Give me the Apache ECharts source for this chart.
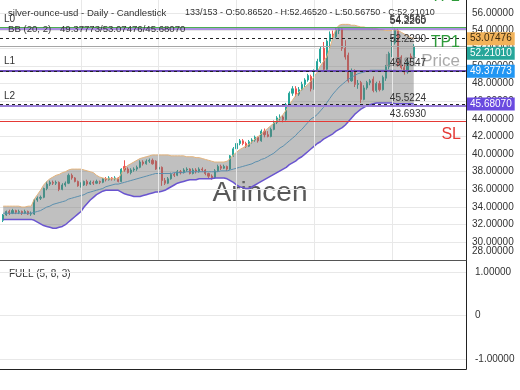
<!DOCTYPE html>
<html><head><meta charset="utf-8">
<script src="https://cdn.jsdelivr.net/npm/echarts@6/dist/echarts.min.js"></script>
<style>html,body{margin:0;padding:0;background:#fff}#c{width:520px;height:390px}</style>
</head><body><div id="c"></div>
<script>
// ---- data ----
const opens = [32.5,33.1,33.5,33.3,33.6,33.4,33.5,33.3,33.5,33.2,
33.2,34.8,35.0,35.1,36.1,36.6,36.8,36.7,36.8,36.0,
36.5,36.7,37.6,37.3,36.9,36.4,36.5,36.9,36.6,36.8,
36.7,36.9,36.8,37.2,37.1,37.3,37.2,37.3,36.9,38.6,
38.3,37.9,38.2,38.3,38.5,39.1,38.9,39.2,39.3,39.2,
38.3,38.5,37.0,36.7,37.2,37.7,37.6,38.0,37.9,38.2,
38.3,37.8,38.2,38.0,38.3,38.2,37.8,37.5,37.3,38.1,
38.6,38.4,38.6,38.3,39.8,40.6,41.2,41.5,41.2,40.9,
41.4,41.6,41.9,41.5,42.6,42.2,42.0,42.8,43.6,44.1,
44.2,43.9,45.6,46.9,47.4,46.8,47.3,47.9,48.4,48.8,
47.4,49.4,50.5,52.0,49.6,52.8,53.6,53.3,54.0,54.2,
52.0,51.2,48.3,49.4,47.9,48.1,46.2,47.5,48.1,48.5,
47.2,48.0,47.3,48.6,49.9,51.4,52.6,54.0,51.0,49.8,
49.3,51.1,50.8652];
const closes = [33.1,33.5,33.3,33.6,33.4,33.5,33.3,33.5,33.2,33.3,
34.8,35.0,35.1,36.1,36.6,36.8,36.7,36.8,36.0,36.5,
36.7,37.6,37.3,36.9,36.4,36.5,36.9,36.6,36.8,36.7,
36.9,36.8,37.2,37.1,37.3,37.2,37.3,36.9,38.3,38.2,
37.9,38.2,38.3,38.5,39.1,38.9,39.2,39.3,38.9,38.3,
38.5,37.0,36.7,37.2,37.7,37.6,38.0,37.9,38.2,38.3,
37.8,38.2,38.0,38.3,38.2,37.8,37.5,37.3,38.1,38.6,
38.4,38.6,38.3,39.8,40.6,41.2,41.5,41.2,40.9,41.4,
41.6,41.9,41.5,42.6,42.2,42.0,42.8,43.6,44.1,44.2,
43.9,45.6,46.9,47.4,46.8,47.3,47.9,48.4,48.9,47.4,
49.4,50.5,51.9,49.6,52.8,53.6,53.3,54.0,54.2,52.0,
51.0,48.3,49.4,47.9,48.0,46.2,47.5,48.1,48.3,47.2,
48.0,47.3,48.7,49.9,51.4,52.6,54.0,50.1,49.8,49.3,
50.4,50.87,52.2101];
const lows = [32.3,33.0,33.1,33.2,33.2,33.2,33.1,33.2,33.1,33.0,
33.1,34.6,34.8,35.0,35.9,36.4,36.5,36.5,35.8,35.9,
36.3,36.6,37.1,36.8,36.3,36.2,36.4,36.4,36.5,36.5,
36.6,36.6,36.7,36.9,37.0,37.0,37.0,36.8,36.8,38.0,
37.8,37.7,38.0,38.1,38.4,38.7,38.8,39.0,38.8,38.2,
38.1,36.4,36.5,36.6,37.1,37.4,37.5,37.7,37.8,38.0,
37.7,37.7,37.8,37.9,38.0,37.6,37.3,37.1,37.2,38.0,
38.2,38.3,38.1,38.2,39.7,40.4,41.0,41.0,40.7,40.8,
41.2,41.4,41.3,41.4,41.9,41.9,41.9,42.7,43.4,43.8,
43.6,43.8,45.5,46.6,46.5,46.6,47.2,47.6,48.2,47.1,
47.3,49.3,50.3,49.4,49.5,52.0,53.0,53.1,53.6,51.7,
50.7,48.1,48.2,47.6,47.4,45.8,46.1,47.3,47.8,47.0,
47.0,47.1,47.2,48.3,49.6,51.0,52.4,49.9,49.6,49.0,
49.1,50.3,50.5675];
const highs = [33.2,33.6,33.7,33.8,33.7,33.7,33.6,33.7,33.6,33.5,
34.9,35.2,35.3,36.2,36.9,37.0,37.0,37.0,36.9,36.7,
36.9,37.8,37.8,37.4,37.0,36.8,37.0,37.1,37.0,37.0,
37.1,37.0,37.3,37.4,37.5,37.4,37.5,37.4,38.4,39.3,
38.5,38.4,38.5,38.7,39.3,39.3,39.4,39.5,39.5,39.3,
38.7,38.6,37.3,37.4,37.9,37.9,38.2,38.2,38.4,38.5,
38.4,38.4,38.4,38.5,38.5,38.3,37.9,37.7,38.3,38.8,
38.8,38.8,38.7,39.9,40.8,41.4,41.7,41.7,41.4,41.6,
41.8,42.1,42.0,42.8,42.9,42.6,43.0,43.8,44.3,44.5,
44.4,45.8,47.1,47.7,47.7,47.6,48.2,48.6,49.1,49.0,
49.6,50.8,52.2,52.7,53.0,53.9,54.0,54.3,54.3565,54.3,
52.9,51.5,49.7,49.6,48.4,48.3,47.8,48.3,48.5,48.8,
48.2,48.3,48.9,50.1,51.6,53.0,54.226,54.2,51.2,50.3,
50.7,51.4,52.4652];
const bbUpper = [34.1,34.1,34.1,34.1,34.1,34.1,34.0,34.0,34.1,34.1,
34.9,35.4,35.9,36.5,36.9,37.2,37.4,37.6,37.7,37.9,
38.0,38.2,38.3,38.3,38.3,38.3,38.2,38.1,38.0,37.9,
37.6,37.4,37.3,37.2,37.2,37.2,37.2,37.2,37.8,38.4,
38.7,38.9,39.1,39.3,39.5,39.6,39.7,39.8,39.9,39.9,
39.9,39.9,39.9,39.9,39.8,39.8,39.8,39.8,39.8,39.7,
39.7,39.7,39.6,39.6,39.5,39.4,39.3,39.2,39.1,39.1,
39.1,39.1,39.2,39.5,39.9,40.2,40.5,40.7,40.9,41.1,
41.4,41.7,42.0,42.3,42.6,42.9,43.2,43.5,43.8,44.1,
44.5,45.0,45.6,46.1,46.6,47.0,47.3,47.6,47.9,48.3,
48.8,49.3,50.0,50.5,51.0,52.0,53.2,54.2,54.6,54.7,
54.7,54.7,54.6,54.6,54.5,54.4,54.4,54.3,54.3,54.2,
54.2,54.1,54.1,54.0,54.0,54.0,54.1,54.0,53.8,53.6,
53.4,53.2,53.07476];
const bbMiddle = [33.3,33.3,33.3,33.3,33.3,33.3,33.3,33.3,33.3,33.3,
33.4,33.5,33.6,33.8,34.0,34.1,34.3,34.4,34.5,34.6,
34.7,34.9,35.0,35.1,35.2,35.3,35.4,35.6,35.7,35.8,
35.9,36.0,36.1,36.3,36.4,36.5,36.6,36.6,36.7,36.8,
36.9,37.0,37.1,37.2,37.3,37.4,37.5,37.6,37.7,37.8,
37.8,37.8,37.8,37.8,37.8,37.9,37.9,37.9,37.9,38.0,
38.0,38.0,38.0,38.0,38.0,38.0,38.0,38.0,38.0,38.0,
38.1,38.1,38.1,38.2,38.3,38.4,38.5,38.6,38.7,38.8,
38.9,39.1,39.2,39.4,39.5,39.7,39.9,40.1,40.4,40.7,
40.9,41.2,41.5,41.8,42.1,42.5,42.8,43.2,43.6,44.0,
44.2,44.5,44.9,45.3,45.8,46.3,46.8,47.2,47.6,47.9,
48.2,48.5,48.7,48.9,49.1,49.2,49.3,49.4,49.5,49.5,
49.5,49.5,49.5,49.5,49.5,49.5,49.5,49.4,49.4,49.4,
49.4,49.4,49.37773];
const bbLower = [32.6,32.6,32.6,32.6,32.6,32.6,32.6,32.6,32.6,32.6,
32.5,32.3,32.1,31.9,31.8,31.7,31.6,31.6,31.7,31.8,
32.0,32.3,32.6,32.9,33.2,33.5,34.0,34.4,34.8,35.1,
35.4,35.6,35.8,35.9,35.9,35.9,35.9,35.9,35.7,35.5,
35.4,35.3,35.2,35.2,35.2,35.3,35.4,35.5,35.6,35.7,
35.7,35.8,35.9,36.1,36.3,36.5,36.7,36.8,36.9,37.0,
37.1,37.1,37.1,37.2,37.2,37.2,37.2,37.2,37.3,37.3,
37.3,37.3,37.2,37.0,36.8,36.5,36.3,36.2,36.1,36.1,
36.3,36.5,36.7,36.9,37.1,37.3,37.5,37.7,37.9,38.1,
38.3,38.5,38.8,39.0,39.2,39.5,39.7,40.0,40.3,40.6,
40.9,41.2,41.4,41.7,41.9,42.1,42.3,42.6,42.8,43.0,
43.3,43.7,44.1,44.5,44.8,45.1,45.3,45.5,45.6,45.7,
45.8,45.8,45.8,45.8,45.8,45.8,45.7,45.7,45.7,45.7,
45.7,45.7,45.6807];
const levelNames = ['TP2','L0','TP1','L1','L2','SL'];
const levelValues = [54.3565, 54.2260, 52.2290, 49.4547, 45.5224, 43.6930];
const bbLastValues = [53.07476, 49.37773, 45.68070];
const lastClose = 52.21010;
const vGridIdx = [25, 50, 75, 100, 125];
const priceAxisMin = 28;
const headerTitle = 'silver-ounce-usd - Daily - Candlestick';
const headerOHLC = '133/153 - O:50.86520 - H:52.46520 - L:50.56750 - C:52.21010';
const bbTitle = 'BB (20, 2)';
const bbValuesText = '49.37773/53.07476/45.68070';
const oscTitle = 'FULL (5, 8, 3)';

// ---- styles ----
const FONT = "'Liberation Sans', Arial, sans-serif";
const CLEAR = 'rgba(0,0,0,0)';
const levelStyle = {
  TP2:{color:'#4caf50', width:1}, L0:{color:'#8e6bd6', width:1.5}, TP1:{color:'#a6a6a6', width:1.2},
  L1:{color:'#6c4cb8', width:2}, L2:{color:'#9b80d8', width:2}, SL:{color:'#e53935', width:1}
};
const bbTagStyle = [
  {bg:'#f2b35a', fg:'#3a2a10'}, {bg:'#2196f3', fg:'#fff'}, {bg:'#6a4ae0', fg:'#fff'}
];

const idx = opens.map((_, i) => i);
const candleData = idx.map(i => [i, opens[i], closes[i], lows[i], highs[i]]);
const toXY = arr => idx.map(i => [i, arr[i]]);

const levelMarks = [];
levelNames.forEach((n, k) => {
  const st = levelStyle[n];
  levelMarks.push({yAxis: levelValues[k], lineStyle:{color:st.color, width:st.width, type:'solid'},
    label:{show:true, position:'insideEndTop', distance:2, padding:[0,38,0,0],
      formatter: levelValues[k].toFixed(4), color:'#333', fontSize:10, fontFamily:FONT}});
  if (n.charAt(0) === 'L') {
    levelMarks.push({yAxis: levelValues[k], lineStyle:{color:CLEAR, width:1},
      label:{show:true, position:'insideStartTop', distance:4, formatter:n, color:'#333', fontSize:10, fontFamily:FONT}});
  }
});
levelMarks.push({yAxis: levelValues[2], lineStyle:{color:CLEAR, width:1},
  label:{show:true, position:'insideEnd', distance:6, offset:[0,-4], formatter:'TP1', color:'#2e9b3a', fontSize:16, fontFamily:FONT}});
levelMarks.push({yAxis: levelValues[5], lineStyle:{color:CLEAR, width:1},
  label:{show:true, position:'insideEndBottom', distance:5, formatter:'SL', color:'#e53935', fontSize:16, fontFamily:FONT}});
levelMarks.push({yAxis: levelValues[0], lineStyle:{color:CLEAR, width:1},
  label:{show:true, position:'insideEndTop', distance:6, offset:[0,-17], formatter:'TP2', color:'#2e9b3a', fontSize:16, fontFamily:FONT}});
// lowest price-axis tick label, lifted inside the pane like the reference
levelMarks.push({yAxis: priceAxisMin, lineStyle:{color:CLEAR, width:1},
  label:{show:true, position:'end', distance:6, offset:[0,-9], formatter: priceAxisMin.toFixed(5), color:'#333', fontSize:10, fontFamily:FONT}});

const bbMarks = bbLastValues.map((v, k) => ({
  yAxis: v, lineStyle:{color:'#222', width:1, type:[3,3]},
  label:{show:true, position:'end', distance:1, formatter: v.toFixed(5), backgroundColor:bbTagStyle[k].bg,
    color:bbTagStyle[k].fg, fontSize:10, fontFamily:FONT, padding:[2,3,1,3]}
}));
bbMarks.push({yAxis:lastClose, lineStyle:{color:CLEAR, width:1},
  label:{show:true, position:'end', distance:1, offset:[0,7], formatter:lastClose.toFixed(5), backgroundColor:'#26a69a',
    color:'#fff', fontSize:10, fontFamily:FONT, padding:[2,3,1,3]}});

const chart = echarts.init(document.getElementById('c'));
chart.setOption({
  animation:false,
  textStyle:{fontFamily:FONT},
  grid:[
    {left:0, top:-4.76, width:466, height:264.76, containLabel:false, outerBoundsMode:'none'},
    {left:0, top:272, width:466, height:87, containLabel:false, outerBoundsMode:'none'}
  ],
  xAxis:[
    {type:'value', gridIndex:0, min:-1.03, max:148.8, show:false},
    {type:'value', gridIndex:1, min:-1.03, max:148.8, show:false}
  ],
  yAxis:[
    {type:'value', gridIndex:0, position:'right', min:priceAxisMin, max:58, interval:2,
     axisLine:{show:false}, axisTick:{show:false},
     splitLine:{lineStyle:{color:'#e8e8e8'}},
     axisLabel:{color:'#333', fontSize:10, margin:6, hideOverlap:false, showMinLabel:false, showMaxLabel:true,
       formatter: v => v.toFixed(5)}},
    {type:'value', gridIndex:1, position:'right', min:-1, max:1, interval:1,
     axisLine:{show:false}, axisTick:{show:false},
     splitLine:{lineStyle:{color:'#e8e8e8'}},
     axisLabel:{color:'#333', fontSize:10, margin:9, hideOverlap:false,
       formatter: v => v === 0 ? '0' : v.toFixed(5)}}
  ],
  series:[
    {type:'line', name:'vgrid', xAxisIndex:0, yAxisIndex:0, z:1, data:[[0, closes[0]]], showSymbol:false,
     lineStyle:{opacity:0}, silent:true,
     markLine:{silent:true, symbol:'none', label:{show:false},
       lineStyle:{color:'#e8e8e8', width:1, type:'solid'},
       data: vGridIdx.map(v => ({xAxis:v}))}},
    {type:'line', name:'lastprice', xAxisIndex:0, yAxisIndex:0, z:1, data:[[0, closes[0]]], showSymbol:false,
     lineStyle:{opacity:0}, silent:true,
     markLine:{silent:true, symbol:'none',
       data:[{yAxis:lastClose, lineStyle:{color:CLEAR, width:1},
         label:{show:true, position:'insideEndBottom', distance:6, formatter:'Last Price', color:'rgba(140,140,140,0.75)', fontSize:17, fontFamily:FONT}}]}},
    {type:'candlestick', name:'price', xAxisIndex:0, yAxisIndex:0, z:2,
     dimensions:['idx','open','close','lowest','highest'],
     encode:{x:'idx', y:['open','close','lowest','highest']},
     data:candleData, barWidth:1.6,
     itemStyle:{color:'#26a69a', color0:'#ef5350', borderColor:'#26a69a', borderColor0:'#ef5350', borderWidth:1}},
    {type:'custom', name:'bbfill', xAxisIndex:0, yAxisIndex:0, z:3, silent:true,
     data:[[0, bbMiddle[0]]], encode:{x:0, y:1},
     renderItem:(params, api) => {
       if (params.dataIndex !== 0) return;
       const pts = [];
       idx.forEach(i => pts.push(api.coord([i, bbUpper[i]])));
       for (let i = idx.length - 1; i >= 0; i--) pts.push(api.coord([i, bbLower[i]]));
       return {type:'polygon', shape:{points:pts}, style:{fill:'rgba(115,115,115,0.45)'}};
     }},
    {type:'line', name:'bbUpper', xAxisIndex:0, yAxisIndex:0, z:4, data:toXY(bbUpper), showSymbol:false, silent:true,
     lineStyle:{color:'#e3b27a', width:1}},
    {type:'line', name:'bbMiddle', xAxisIndex:0, yAxisIndex:0, z:4, data:toXY(bbMiddle), showSymbol:false, silent:true,
     lineStyle:{color:'#5b8fae', width:1}},
    {type:'line', name:'bbLower', xAxisIndex:0, yAxisIndex:0, z:4, data:toXY(bbLower), showSymbol:false, silent:true,
     lineStyle:{color:'#6a55d0', width:1.5}},
    {type:'line', name:'levels', xAxisIndex:0, yAxisIndex:0, z:5, data:[[0, closes[0]]], showSymbol:false,
     lineStyle:{opacity:0}, silent:true,
     markLine:{silent:true, symbol:'none', data:levelMarks}},
    {type:'line', name:'bbprices', xAxisIndex:0, yAxisIndex:0, z:6, data:[[0, closes[0]]], showSymbol:false,
     lineStyle:{opacity:0}, silent:true,
     markLine:{silent:true, symbol:'none', data:bbMarks}}
  ],
  graphic:[
    {type:'text', x:8, y:13, z:10, style:{text:headerTitle, fill:'#333', font:'9.6px '+FONT, verticalAlign:'middle', align:'left'}},
    {type:'text', x:185, y:13, z:10, style:{text:headerOHLC, fill:'#333', font:'9px '+FONT, verticalAlign:'middle', align:'left'}},
    {type:'text', x:8, y:29, z:10, style:{text:bbTitle, fill:'#333', font:'9.6px '+FONT, verticalAlign:'middle', align:'left'}},
    {type:'text', x:60, y:29, z:10, style:{text:bbValuesText, fill:'#333', font:'9.6px '+FONT, verticalAlign:'middle', align:'left'}},
    {type:'text', x:260, y:193, z:0, style:{text:'Arincen', fill:'rgba(70,70,70,0.9)', font:'28px '+FONT, verticalAlign:'middle', align:'center'}},
    {type:'text', x:9, y:274, z:0, style:{text:oscTitle, fill:'#333', font:'10px '+FONT, verticalAlign:'middle', align:'left'}},
    {type:'line', z:100, shape:{x1:466.5, y1:0, x2:466.5, y2:369.5}, style:{stroke:'#222', lineWidth:1}},
    {type:'line', z:100, shape:{x1:0, y1:260.5, x2:466.5, y2:260.5}, style:{stroke:'#555', lineWidth:1}},
    {type:'line', z:100, shape:{x1:0, y1:369.5, x2:466.5, y2:369.5}, style:{stroke:'#222', lineWidth:1}}
  ]
});
</script>
</body></html>
